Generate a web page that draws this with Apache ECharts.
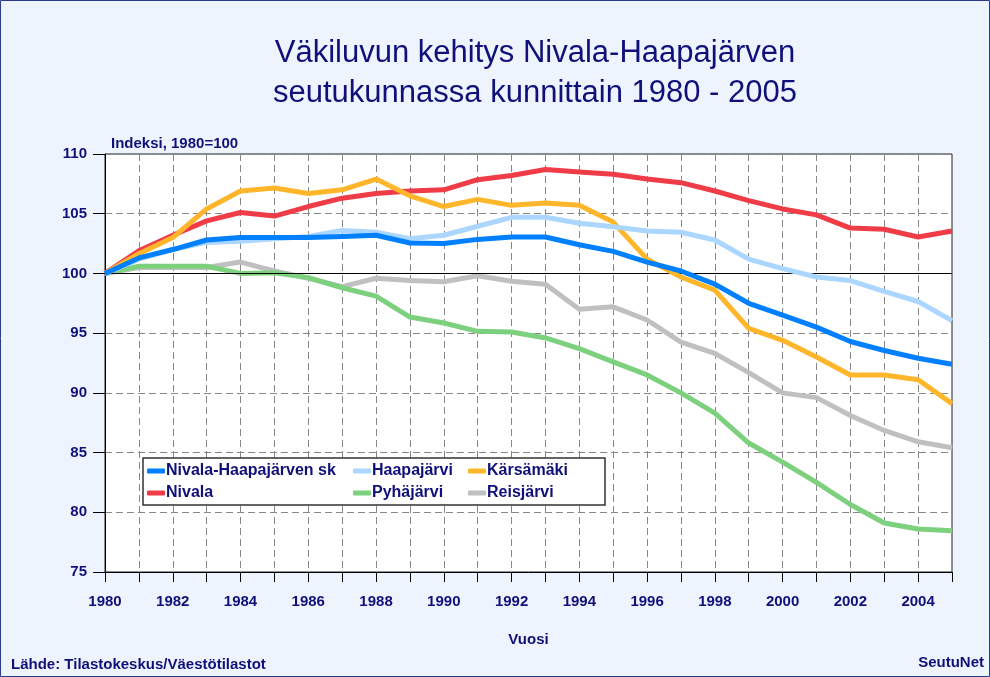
<!DOCTYPE html>
<html>
<head>
<meta charset="utf-8">
<script src="https://cdn.jsdelivr.net/npm/echarts@6/dist/echarts.min.js"></script>
<style>
  html, body { margin: 0; padding: 0; background: #eef4fd; }
  #chart { width: 990px; height: 677px; }
</style>
</head>
<body>
<div id="chart"></div>
<script>
// vuodet ja indeksit (1980=100)
var years = [1980, 1981, 1982, 1983, 1984, 1985, 1986, 1987, 1988, 1989, 1990, 1991, 1992,
             1993, 1994, 1995, 1996, 1997, 1998, 1999, 2000, 2001, 2002, 2003, 2004, 2005]
var seutukunta = [100, 101.3, 102.0, 102.8, 103.0, 103.0, 103.0, 103.1, 103.2, 102.55, 102.5, 102.85, 103.05,
                  103.05, 102.4, 101.85, 100.95, 100.2, 99.1, 97.5, 96.5, 95.5, 94.3, 93.55, 92.9, 92.4]
var haapajarvi = [100, 101.2, 102.0, 102.6, 102.7, 102.9, 103.1, 103.6, 103.45, 102.9, 103.2, 103.95, 104.7,
                  104.7, 104.2, 103.9, 103.55, 103.45, 102.8, 101.2, 100.4, 99.7, 99.4, 98.5, 97.65, 96.05]
var karsamaki = [100, 101.65, 103.0, 105.4, 106.9, 107.15, 106.7, 107.0, 107.9, 106.5, 105.6, 106.2, 105.7,
                 105.9, 105.7, 104.3, 101.2, 99.7, 98.6, 95.4, 94.4, 93.0, 91.5, 91.5, 91.1, 89.1]
var nivala = [100, 101.9, 103.2, 104.4, 105.1, 104.8, 105.6, 106.3, 106.7, 106.9, 107.0, 107.85, 108.2,
              108.7, 108.5, 108.3, 107.9, 107.6, 106.9, 106.1, 105.4, 104.9, 103.8, 103.7, 103.05, 103.55]
var pyhajarvi = [100, 100.6, 100.6, 100.6, 100.0, 100.05, 99.65, 98.8, 98.1, 96.35, 95.85, 95.15, 95.1,
                 94.6, 93.7, 92.6, 91.5, 90.0, 88.3, 85.8, 84.2, 82.5, 80.65, 79.1, 78.6, 78.45]
var reisjarvi = [100, 100.5, 100.5, 100.5, 100.95, 100.2, 99.6, 98.9, 99.6, 99.4, 99.3, 99.8, 99.35,
                 99.1, 97.0, 97.2, 96.1, 94.25, 93.3, 91.7, 90.0, 89.6, 88.1, 86.85, 85.9, 85.4]

var navy = '#10107a'
var font = "'Liberation Sans', Arial, sans-serif"

function pairs (vals) {
    return years.map(function (y, i) { return [y, vals[i]] })
}

function lineSeries (name, vals, color, z) {
    return {
        name: name,
        type: 'line',
        data: pairs(vals),
        showSymbol: false,
        symbol: 'none',
        z: z,
        lineStyle: { color: color, width: 5 },
        itemStyle: { color: color }
    }
}

function legendCol (left, names) {
    return {
        orient: 'vertical',
        left: left,
        top: 463,
        padding: 0,
        itemWidth: 18,
        itemHeight: 5,
        itemGap: 6,
        icon: 'roundRect',
        z: 6,
        data: names,
        textStyle: { color: navy, fontFamily: font, fontWeight: 'bold', fontSize: 16, lineHeight: 16, padding: [0, 0, 0, -4] }
    }
}

var myChart = echarts.init(document.getElementById('chart'))
var series = [
    lineSeries('Reisjärvi', reisjarvi, '#c0c0c0', 2),
    lineSeries('Pyhäjärvi', pyhajarvi, '#7dd07d', 3),
    lineSeries('Nivala', nivala, '#f03c46', 4),
    lineSeries('Kärsämäki', karsamaki, '#ffb62a', 5),
    lineSeries('Haapajärvi', haapajarvi, '#aad6ff', 6),
    lineSeries('Nivala-Haapajärven sk', seutukunta, '#0080ff', 7)
]
// 100-viiva
series[0].markLine = {
    silent: true,
    symbol: 'none',
    label: { show: false },
    lineStyle: { color: '#000', width: 1, type: 'solid' },
    data: [{ yAxis: 100 }]
}

var option = {
    backgroundColor: '#eef4fd',
    animation: false,
    title: [
        {
            text: 'Väkiluvun kehitys Nivala-Haapajärven\nseutukunnassa kunnittain 1980 - 2005',
            left: 530,
            top: 28,
            textAlign: 'center',
            textStyle: { color: navy, fontFamily: font, fontWeight: 'normal', fontSize: 31, lineHeight: 40 }
        },
        {
            text: 'Indeksi, 1980=100',
            left: 106,
            top: 131,
            textStyle: { color: navy, fontFamily: font, fontWeight: 'bold', fontSize: 15 }
        },
        {
            text: 'Lähde: Tilastokeskus/Väestötilastot',
            left: 6,
            top: 652,
            textStyle: { color: navy, fontFamily: font, fontWeight: 'bold', fontSize: 15 }
        },
        {
            text: 'SeutuNet',
            right: 1,
            top: 650,
            textStyle: { color: navy, fontFamily: font, fontWeight: 'bold', fontSize: 15 }
        }
    ],
    legend: [
        legendCol(147, ['Nivala-Haapajärven sk', 'Nivala']),
        legendCol(353, ['Haapajärvi', 'Pyhäjärvi']),
        legendCol(468, ['Kärsämäki', 'Reisjärvi'])
    ],
    grid: {
        left: 105,
        right: 38,
        top: 154,
        bottom: 105,
        show: true,
        backgroundColor: '#fff',
        borderColor: '#222',
        borderWidth: 1
    },
    xAxis: {
        type: 'value',
        min: 1980,
        max: 2005,
        interval: 1,
        name: 'Vuosi',
        nameLocation: 'middle',
        nameGap: 60,
        nameTextStyle: { color: navy, fontFamily: font, fontWeight: 'bold', fontSize: 15 },
        axisLine: { lineStyle: { color: '#000', width: 1 } },
        axisTick: { length: 10, lineStyle: { color: '#000' } },
        axisLabel: {
            margin: 22,
            color: navy,
            fontFamily: font,
            fontWeight: 'bold',
            fontSize: 15,
            formatter: function (v) { return (v % 2 === 0 && v < 2005) ? String(v) : '' }
        },
        splitLine: { show: true, lineStyle: { color: '#888', type: [7, 4] } }
    },
    yAxis: {
        type: 'value',
        min: 75,
        max: 110,
        interval: 5,
        axisLine: { show: true, lineStyle: { color: '#000', width: 1 } },
        axisTick: { show: true, length: 12, lineStyle: { color: '#000' } },
        axisLabel: { margin: 18, color: navy, fontFamily: font, fontWeight: 'bold', fontSize: 15 },
        splitLine: { show: true, lineStyle: { color: '#888', type: [7, 4] } }
    },
    graphic: [
        {
            type: 'rect',
            z: 5,
            shape: { x: 143, y: 458, width: 462, height: 47 },
            style: { fill: '#fff', stroke: '#333', lineWidth: 1.5 }
        },
        {
            type: 'rect',
            z: -1,
            silent: true,
            shape: { x: 0.5, y: 0.5, width: 989, height: 676 },
            style: { fill: 'none', stroke: '#2a3a8c', lineWidth: 1 }
        }
    ],
    series: series
}
myChart.setOption(option)
</script>
</body>
</html>
